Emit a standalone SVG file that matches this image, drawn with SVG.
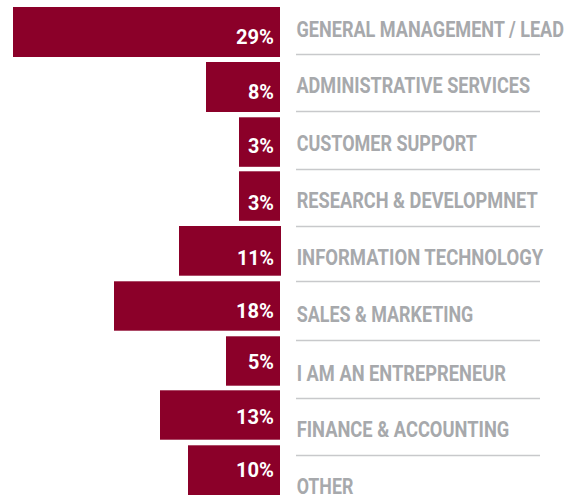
<svg xmlns="http://www.w3.org/2000/svg" width="577" height="495" viewBox="0 0 577 495">
<style>
.bar{fill:#8B0029}
.pct{fill:#ffffff;font-family:Roboto,"Liberation Sans",sans-serif;font-weight:bold;font-size:21px;text-anchor:end}
.lbl{fill:#A7A9AC;font-family:Roboto,"Liberation Sans",sans-serif;font-weight:bold;font-size:22px}
.rule{stroke:#C8C9CB;stroke-width:1.5;fill:none}
</style>
<rect width="577" height="495" fill="#ffffff"/>
<g id="connectors">
<line class="rule" x1="296" y1="54.5" x2="540" y2="54.5"/>
<line class="rule" x1="296" y1="111.5" x2="540" y2="111.5"/>
<line class="rule" x1="296" y1="169.5" x2="540" y2="169.5"/>
<line class="rule" x1="296" y1="226.5" x2="540" y2="226.5"/>
<line class="rule" x1="296" y1="281.5" x2="540" y2="281.5"/>
<line class="rule" x1="296" y1="340.5" x2="540" y2="340.5"/>
<line class="rule" x1="296" y1="398.5" x2="540" y2="398.5"/>
<line class="rule" x1="296" y1="455.5" x2="540" y2="455.5"/>
</g>
<g id="row1">
<rect class="bar" x="13" y="7" width="267" height="50"/>
<text class="pct" x="274" y="43.5" textLength="38" lengthAdjust="spacingAndGlyphs">29%</text>
<text class="lbl" x="296.5" y="36.7" textLength="267.5" lengthAdjust="spacingAndGlyphs">GENERAL MANAGEMENT / LEAD</text>
</g>
<g id="row2">
<rect class="bar" x="206" y="62" width="74" height="50"/>
<text class="pct" x="274" y="98.7" textLength="26" lengthAdjust="spacingAndGlyphs">8%</text>
<text class="lbl" x="296.5" y="93.3" textLength="233.5" lengthAdjust="spacingAndGlyphs">ADMINISTRATIVE SERVICES</text>
</g>
<g id="row3">
<rect class="bar" x="239" y="117.3" width="41" height="49.5"/>
<text class="pct" x="274" y="153.3" textLength="26" lengthAdjust="spacingAndGlyphs">3%</text>
<text class="lbl" x="296.7" y="151.3" textLength="180.3" lengthAdjust="spacingAndGlyphs">CUSTOMER SUPPORT</text>
</g>
<g id="row4">
<rect class="bar" x="239" y="171.3" width="41" height="49.5"/>
<text class="pct" x="274" y="209.5" textLength="26" lengthAdjust="spacingAndGlyphs">3%</text>
<text class="lbl" x="296.7" y="208.3" textLength="241" lengthAdjust="spacingAndGlyphs">RESEARCH &amp; DEVELOPMNET</text>
</g>
<g id="row5">
<rect class="bar" x="179" y="226" width="102" height="49.7"/>
<text class="pct" x="274" y="265" textLength="37" lengthAdjust="spacingAndGlyphs">11%</text>
<text class="lbl" x="296.7" y="265" textLength="246.6" lengthAdjust="spacingAndGlyphs">INFORMATION TECHNOLOGY</text>
</g>
<g id="row6">
<rect class="bar" x="114" y="281.3" width="166" height="49.4"/>
<text class="pct" x="274" y="318.3" textLength="38" lengthAdjust="spacingAndGlyphs">18%</text>
<text class="lbl" x="296.7" y="321.7" textLength="176.6" lengthAdjust="spacingAndGlyphs">SALES &amp; MARKETING</text>
</g>
<g id="row7">
<rect class="bar" x="226" y="336.3" width="54" height="49.4"/>
<text class="pct" x="274" y="369.3" textLength="26" lengthAdjust="spacingAndGlyphs">5%</text>
<text class="lbl" x="296.7" y="380.7" textLength="209.3" lengthAdjust="spacingAndGlyphs">I AM AN ENTREPRENEUR</text>
</g>
<g id="row8">
<rect class="bar" x="160" y="390.3" width="120" height="49.4"/>
<text class="pct" x="274" y="424" textLength="38" lengthAdjust="spacingAndGlyphs">13%</text>
<text class="lbl" x="296.7" y="436.7" textLength="212.6" lengthAdjust="spacingAndGlyphs">FINANCE &amp; ACCOUNTING</text>
</g>
<g id="row9">
<rect class="bar" x="188" y="445.3" width="92" height="49.7"/>
<text class="pct" x="274" y="476.7" textLength="38" lengthAdjust="spacingAndGlyphs">10%</text>
<text class="lbl" x="296.7" y="494.3" textLength="56.6" lengthAdjust="spacingAndGlyphs">OTHER</text>
</g>
</svg>
